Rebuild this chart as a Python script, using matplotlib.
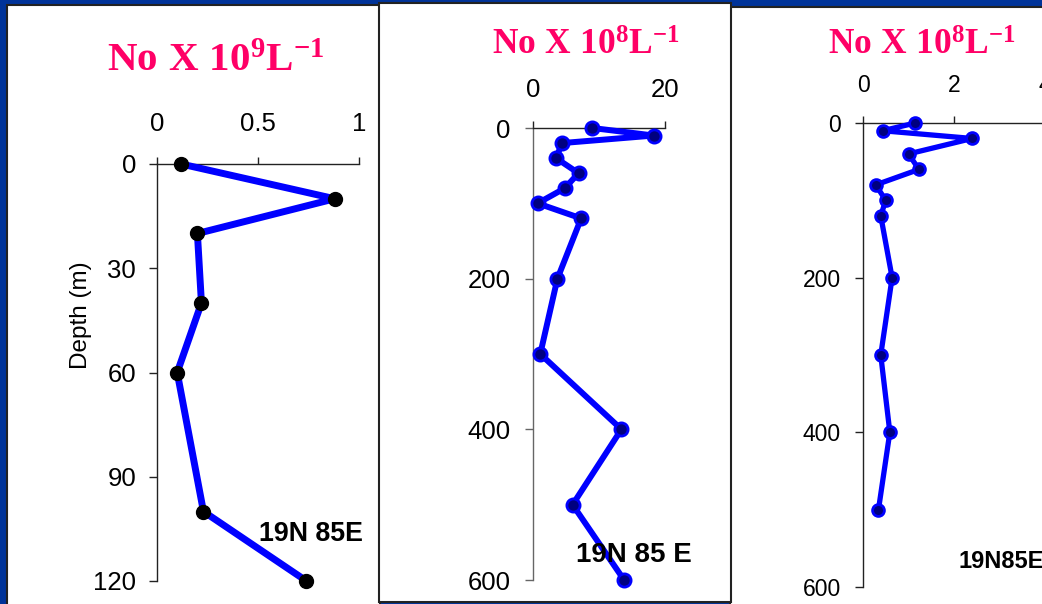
import matplotlib
matplotlib.use('Agg')
import matplotlib.pyplot as plt
from matplotlib.patches import Rectangle

# Profile 1 (No x 10^9 L^-1)
p1_vals = [0.12, 0.88, 0.20, 0.22, 0.10, 0.23, 0.74]
p1_depth = [0, 10, 20, 40, 60, 100, 120]
p1_xticks = [0, 0.5, 1]
p1_xticklabels = ['0', '0.5', '1']
p1_yticks = [0, 30, 60, 90, 120]

# Profile 2 (No x 10^8 L^-1)
p2_vals = [9.0, 18.3, 4.4, 3.5, 6.9, 4.8, 0.7, 7.3, 3.7, 1.1, 13.4, 6.0, 13.8]
p2_depth = [0, 10, 20, 40, 60, 80, 100, 120, 200, 300, 400, 500, 600]
p2_xticks = [0, 20]
p2_yticks = [0, 200, 400, 600]

# Profile 3 (No x 10^8 L^-1)
p3_vals = [1.15, 0.43, 2.4, 1.0, 1.23, 0.28, 0.5, 0.39, 0.64, 0.39, 0.59, 0.34]
p3_depth = [0, 10, 20, 40, 60, 80, 100, 120, 200, 300, 400, 500]
p3_xticks = [0, 2, 4]
p3_yticks = [0, 200, 400, 600]

titles = [r'$\mathbf{No\;X\;10^{9}L^{-1}}$',
          r'$\mathbf{No\;X\;10^{8}L^{-1}}$',
          r'$\mathbf{No\;X\;10^{8}L^{-1}}$']
station_labels = ['19N 85E', '19N 85 E', '19N85E']

plt.rcParams['font.family'] = 'Liberation Sans'
plt.rcParams['mathtext.fontset'] = 'custom'
plt.rcParams['mathtext.rm'] = 'Liberation Serif'
plt.rcParams['mathtext.bf'] = 'Liberation Serif:bold'

W, H = 1042, 604
NAVY = '#003399'
TITLE_COL = '#FF0066'

fig = plt.figure(figsize=(W / 100, H / 100), dpi=100, facecolor=NAVY)


def box(x0, y0, x1, y1):
    # white panel in pixel coords (y from top)
    r = Rectangle((x0 / W, 1 - y1 / H), (x1 - x0) / W, (y1 - y0) / H,
                  transform=fig.transFigure, facecolor='white',
                  edgecolor='#222222', lw=1.5, zorder=-10)
    fig.patches.append(r)


box(7, 5, 380, 640)
box(730, 7, 1100, 640)
box(379, 3, 731, 602)


def make_axes(left, right, top, bottom):
    return fig.add_axes([left / W, 1 - bottom / H, (right - left) / W, (bottom - top) / H])


def style(ax, fs, xpad, ypad, ycol='#222222'):
    ax.set_facecolor('none')
    ax.spines['right'].set_visible(False)
    ax.spines['bottom'].set_visible(False)
    ax.spines['top'].set_color('#222222')
    ax.spines['left'].set_color(ycol)
    ax.spines['top'].set_linewidth(1.0)
    ax.spines['left'].set_linewidth(1.0)
    ax.xaxis.tick_top()
    ax.tick_params(axis='x', direction='out', length=5, width=1, pad=xpad,
                   labelsize=fs, colors='#222222', labelcolor='black')
    ax.tick_params(axis='y', direction='out', length=6, width=1, pad=ypad,
                   labelsize=fs, colors=ycol, labelcolor='black')


# Panel 1
ax1 = make_axes(157, 359, 164, 581)
ax1.plot(p1_vals, p1_depth, color='#0000FF', lw=5, marker='o', ms=10,
         mfc='black', mec='black', clip_on=False, zorder=3)
ax1.set_xlim(0, 1)
ax1.set_ylim(120, 0)
ax1.set_xticks(p1_xticks)
ax1.set_xticklabels(p1_xticklabels)
ax1.set_yticks(p1_yticks)
style(ax1, 18.5, 15, 9)
ax1.text(0.76, 106.5, station_labels[0], fontsize=19.3, fontweight='bold',
         ha='center', va='center')
fig.text(81 / W, 1 - 315 / H, 'Depth (m)', rotation=90, fontsize=17.5,
         ha='center', va='center')

# Panel 2
ax2 = make_axes(533, 665, 128, 580)
ax2.plot(p2_vals, p2_depth, color='#0000FF', lw=4.3, marker='o', ms=9.5,
         mfc='#000080', mec='#0000FF', mew=2, clip_on=False, zorder=3)
ax2.set_xlim(0, 20)
ax2.set_ylim(600, 0)
ax2.set_xticks(p2_xticks)
ax2.set_yticks(p2_yticks)
style(ax2, 18.5, 14, 10, ycol='#666666')
ax2.text(15.3, 567, station_labels[1], fontsize=20, fontweight='bold',
         ha='center', va='center')

# Panel 3
ax3 = make_axes(863, 1045, 123, 587)
ax3.plot(p3_vals, p3_depth, color='#0000FF', lw=3.8, marker='o', ms=8.5,
         mfc='#000080', mec='#0000FF', mew=2, clip_on=False, zorder=3)
ax3.set_xlim(0, 4)
ax3.set_ylim(600, 0)
ax3.set_xticks(p3_xticks)
ax3.set_yticks(p3_yticks)
style(ax3, 16.5, 14, 10)
ax3.text(2.09, 567, station_labels[2], fontsize=17, fontweight='bold',
         ha='left', va='center')

# Titles
fig.text(216 / W, 1 - 71 / H, titles[0], fontsize=29.5, color=TITLE_COL,
         ha='center', va='baseline')
fig.text(586 / W, 1 - 55 / H, titles[1], fontsize=25.5, color=TITLE_COL,
         ha='center', va='baseline')
fig.text(922 / W, 1 - 55 / H, titles[2], fontsize=25.5, color=TITLE_COL,
         ha='center', va='baseline')

fig.savefig('out.png', dpi=100, facecolor=fig.get_facecolor())
